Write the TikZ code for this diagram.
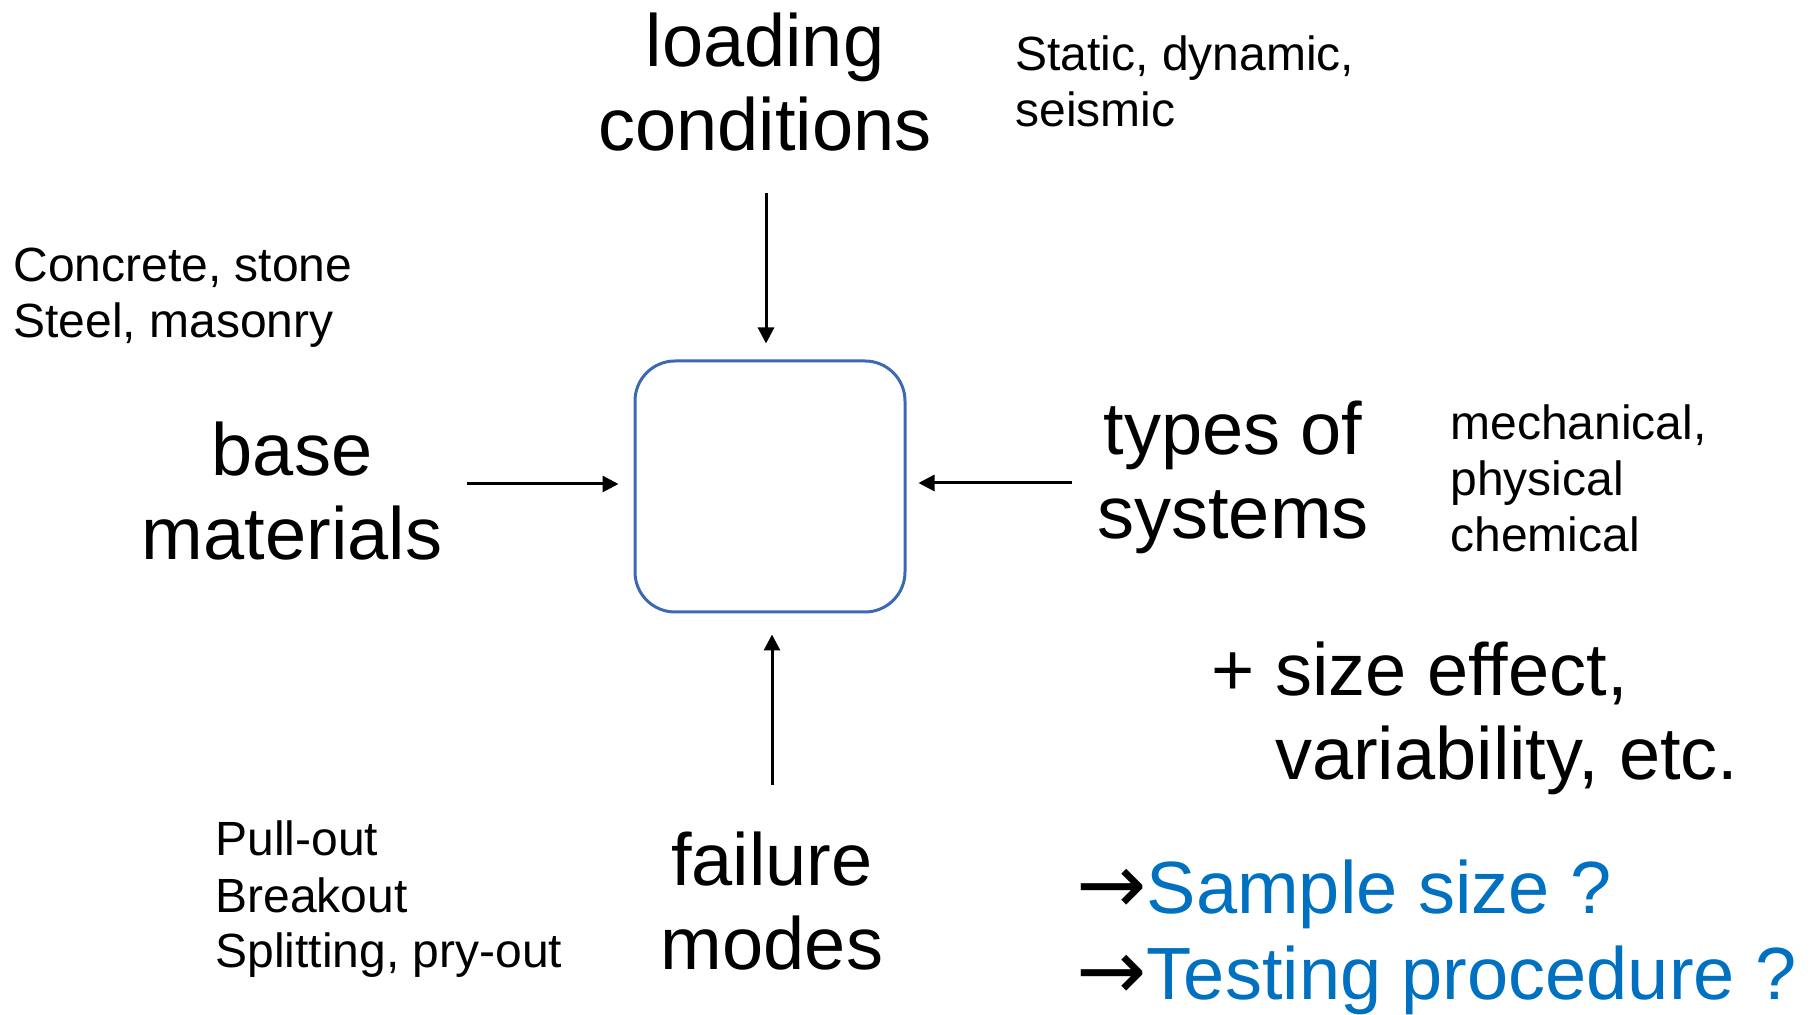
\documentclass[tikz,border=0pt]{standalone}
\usepackage{fontspec}
\setmainfont{Liberation Sans}
\newfontfamily\symfont{DejaVu Sans}
\usepackage{tikz}
\usetikzlibrary{arrows.meta, calc, positioning}
\definecolor{hubblue}{RGB}{60,105,180}
\definecolor{askblue}{RGB}{0,112,192}

\begin{document}
\begin{tikzpicture}[
            x=0.5pt, y=-0.5pt,
            hub/.style={rectangle, draw=hubblue, line width=1.5pt, rounded corners=20pt,
                    minimum width=135pt, minimum height=125.5pt},
            big/.style={inner sep=0pt, font=\fontsize{37}{42}\selectfont},
            note/.style={inner sep=0pt, align=left, font=\fontsize{24}{28}\selectfont},
            feed/.style={-{Triangle[length=8pt, width=8pt]}, line width=1.5pt}
        ]
        \useasboundingbox (0,0) rectangle (1812,1015);

        % Central box
        \node[hub] (hub) at (770,486.5) {};

        % Main factors (anchored on the last line)
        \node[big, align=center, anchor=base] (cond) at (765,151) {loading\\conditions};
        \node[big, align=center, anchor=base] (base) at (292,560) {base\\materials};
        \node[big, align=center, anchor=base] (types) at (1233,539) {types of\\systems};
        \node[big, align=center, anchor=base] (fail) at (772,970) {failure\\modes};

        % Notes
        \node[note, anchor=base west] (stat) at (1015,127) {Static, dynamic,\\seismic};
        \node[note, anchor=base west] (conc) at (13,338) {Concrete, stone\\Steel, masonry};
        \node[note, anchor=base west] (mech) at (1450,552) {mechanical,\\physical\\chemical};
        \node[note, anchor=base west] (pull) at (215,968) {Pull-out\\Breakout\\Splitting, pry-out};

        % Extra effects and questions
        \node[big, align=left, anchor=base west] (size) at (1211,780)
            {+ size effect,\\\phantom{+}\ variability, etc.};
        \node[inner sep=0pt, align=left, anchor=base west,
              font=\fontsize{37}{43.5}\selectfont] (ask) at (1076,1000)
            {{\symfont\fontsize{42}{43.5}\selectfont →}\textcolor{askblue}{Sample size ?}\\
             {\symfont\fontsize{42}{43.5}\selectfont →}\textcolor{askblue}{Testing procedure ?}};

        % Arrows into the box
        \coordinate (inTop) at (766,193);
        \coordinate (inBot) at (772,785);
        \coordinate (inLeft) at (467,484);
        \coordinate (inRight) at (1072,483);
        \draw[feed] (inTop) -- ($(inTop |- hub.north)+(0,-16)$);
        \draw[feed] (inBot) -- ($(inBot |- hub.south)+(0,21)$);
        \draw[feed] (inLeft) -- ($(inLeft -| hub.west)+(-15,0)$);
        \draw[feed] (inRight) -- ($(inRight -| hub.east)+(12,0)$);
    \end{tikzpicture}
\end{document}
